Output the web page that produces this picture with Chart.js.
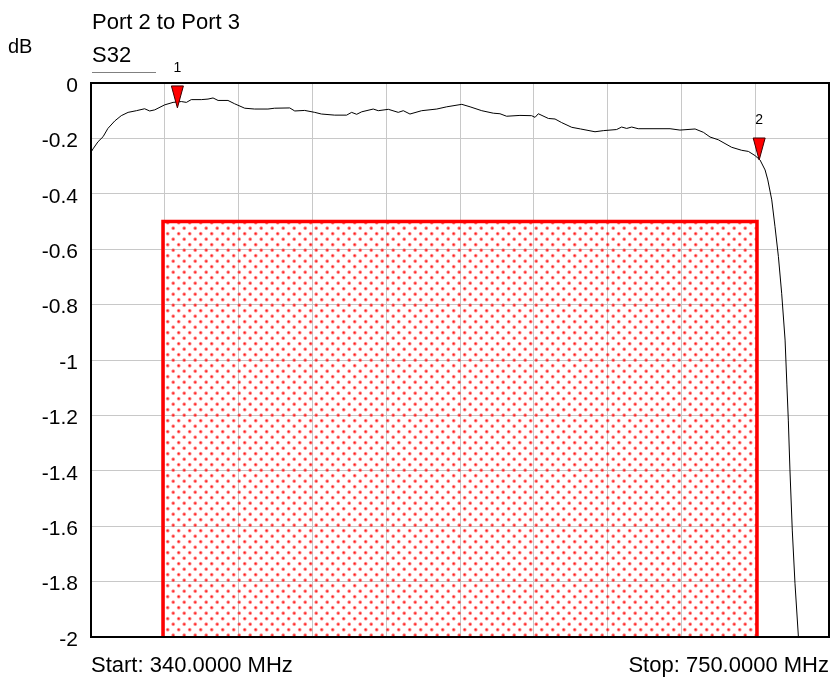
<!DOCTYPE html>
<html>
<head>
<meta charset="utf-8">
<script src="https://cdn.jsdelivr.net/npm/chart.js@4/dist/chart.umd.min.js"></script>
<style>
  html, body { margin: 0; padding: 0; background: #fff; }
  canvas { display: block; }
</style>
</head>
<body>
<canvas id="chart" width="831" height="680"></canvas>
<script>
/* S32 trace, Port 2 to Port 3 */
const freqMHz = [
  340.0, 341.1, 343.9, 346.7, 349.4, 353.2, 356.8, 360.6, 365.2, 369.8,
  372.6, 375.4, 380.9, 385.6, 390.2, 393.0, 395.7, 401.3, 405.0, 407.8,
  410.6, 416.1, 419.8, 425.4, 430.9, 438.3, 442.0, 450.4, 453.2, 458.7,
  464.3, 468.0, 475.4, 482.0, 484.8, 487.6, 490.4, 496.8, 499.6, 505.2,
  510.7, 513.5, 517.2, 523.7, 532.1, 537.6, 546.0, 550.6, 557.1, 563.5,
  567.2, 570.9, 578.3, 584.8, 586.7, 588.5, 594.1, 597.8, 601.5, 607.1,
  612.0, 620.0, 624.6, 632.0, 634.8, 637.6, 640.4, 644.0, 661.7, 667.2,
  675.6, 680.2, 683.9, 688.5, 695.9, 701.5, 705.2, 708.9, 711.7, 714.5,
  716.0, 718.2, 720.0, 721.9, 723.7, 725.6, 726.6, 727.4, 728.3, 729.6,
  731.1, 733.0, 734.0
];
const s32dB = [
  -0.250, -0.238, -0.212, -0.194, -0.164, -0.137, -0.118, -0.106, -0.100, -0.093,
  -0.101, -0.097, -0.079, -0.070, -0.067, -0.070, -0.060, -0.060, -0.058, -0.054,
  -0.063, -0.063, -0.075, -0.091, -0.094, -0.094, -0.091, -0.090, -0.101, -0.099,
  -0.106, -0.112, -0.116, -0.116, -0.106, -0.113, -0.104, -0.094, -0.100, -0.095,
  -0.106, -0.100, -0.112, -0.100, -0.094, -0.086, -0.077, -0.086, -0.100, -0.109,
  -0.111, -0.120, -0.117, -0.118, -0.124, -0.111, -0.128, -0.130, -0.143, -0.160,
  -0.166, -0.176, -0.172, -0.168, -0.159, -0.164, -0.159, -0.165, -0.165, -0.170,
  -0.166, -0.178, -0.195, -0.205, -0.232, -0.243, -0.247, -0.262, -0.278, -0.314,
  -0.350, -0.422, -0.519, -0.627, -0.759, -0.928, -1.090, -1.217, -1.397, -1.614,
  -1.806, -1.999, -2.100
];

/* limit mask (hatched box) */
const maskMHz = [380, 380, 710, 710];
const maskDb  = [-2, -0.5, -0.5, -2];

/* markers */
const markerNames = ['1', '2'];
const markerMHz   = [388, 711.2];
const markerDb    = [-0.09, -0.278];

/* axes */
const xTicksMHz = [340, 381, 422, 463, 504, 545, 586, 627, 668, 709, 750];
const yTicksDb  = [0, -0.2, -0.4, -0.6, -0.8, -1, -1.2, -1.4, -1.6, -1.8, -2];

const titleText = 'Port 2 to Port 3';
const traceName = 'S32';
const yUnit = 'dB';
const startText = 'Start: 340.0000 MHz';
const stopText = 'Stop: 750.0000 MHz';

const FONT = '"Liberation Sans", Arial, sans-serif';

function dotPattern() {
  const c = document.createElement('canvas');
  c.width = 11; c.height = 11;
  const g = c.getContext('2d');
  [[2.7, 2.7], [8.2, 8.2]].forEach(([cx, cy]) => {
    const grd = g.createRadialGradient(cx, cy, 0, cx, cy, 2.4);
    grd.addColorStop(0, 'rgba(255,0,0,1)');
    grd.addColorStop(0.5, 'rgba(255,40,40,0.65)');
    grd.addColorStop(1, 'rgba(255,120,120,0)');
    g.fillStyle = grd;
    g.fillRect(cx - 3, cy - 3, 6, 6);
  });
  return g.createPattern(c, 'repeat');
}

const overlay = {
  id: 'overlay',
  afterDatasetsDraw(chart) {
    const {ctx, chartArea: a, scales: {x, y}} = chart;
    ctx.save();
    markerMHz.forEach((f, i) => {
      const px = x.getPixelForValue(f), py = y.getPixelForValue(markerDb[i]);
      ctx.beginPath();
      ctx.moveTo(px, py);
      ctx.lineTo(px - 6, py - 22);
      ctx.lineTo(px + 6, py - 22);
      ctx.closePath();
      ctx.fillStyle = '#ff0000';
      ctx.fill();
      ctx.strokeStyle = '#3a0000';
      ctx.lineWidth = 1;
      ctx.stroke();
      ctx.fillStyle = '#000';
      ctx.font = '14px ' + FONT;
      ctx.textAlign = 'center';
      ctx.textBaseline = 'alphabetic';
      ctx.fillText(markerNames[i], px, py - 36);
    });
    // plot frame
    ctx.strokeStyle = '#000';
    ctx.lineWidth = 2;
    ctx.strokeRect(a.left, a.top, a.right - a.left, a.bottom - a.top);
    ctx.restore();
  },
  afterDraw(chart) {
    const {ctx, chartArea: a} = chart;
    ctx.save();
    ctx.fillStyle = '#000';
    ctx.textBaseline = 'alphabetic';
    ctx.textAlign = 'left';
    ctx.font = '22px ' + FONT;
    ctx.fillText(titleText, 92, 29);
    ctx.fillText(traceName, 92, 62);
    ctx.font = '20px ' + FONT;
    ctx.fillText(yUnit, 8, 53);
    ctx.strokeStyle = '#808080';
    ctx.lineWidth = 1;
    ctx.beginPath();
    ctx.moveTo(92, 72.5);
    ctx.lineTo(156, 72.5);
    ctx.stroke();
    ctx.font = '22px ' + FONT;
    ctx.fillText(startText, a.left, 672);
    ctx.textAlign = 'right';
    ctx.fillText(stopText, a.right, 672);
    ctx.restore();
  }
};

new Chart(document.getElementById('chart'), {
  type: 'line',
  data: {
    datasets: [
      {
        label: traceName,
        data: freqMHz.map((f, i) => ({x: f, y: s32dB[i]})),
        borderColor: '#000',
        borderWidth: 1,
        pointRadius: 0,
        tension: 0,
        fill: false,
      },
      {
        label: 'mask',
        data: maskMHz.map((f, i) => ({x: f, y: maskDb[i]})),
        borderColor: '#ff0000',
        borderWidth: 3.5,
        backgroundColor: dotPattern(),
        pointRadius: 0,
        tension: 0,
        fill: 'start',
      },
    ],
  },
  options: {
    responsive: false,
    animation: false,
    events: [],
    layout: {padding: {top: 83, right: 2, left: 0, bottom: 0}},
    plugins: {legend: {display: false}, tooltip: {enabled: false}},
    scales: {
      x: {
        type: 'linear',
        min: 340, max: 750,
        afterBuildTicks: s => { s.ticks = xTicksMHz.map(v => ({value: v})); },
        afterFit: s => { s.height = 43; },
        ticks: {display: false},
        grid: {color: '#c8c8c8', lineWidth: 1, drawTicks: false},
        border: {display: false},
      },
      y: {
        type: 'linear',
        min: -2, max: 0,
        afterBuildTicks: s => { s.ticks = yTicksDb.map(v => ({value: v})); },
        afterFit: s => { s.width = 91; },
        ticks: {
          color: '#000',
          padding: 13,
          labelOffset: 3,
          font: {family: FONT, size: 21},
          callback: v => String(+Number(v).toFixed(1)),
        },
        grid: {color: '#c8c8c8', lineWidth: 1, drawTicks: false},
        border: {display: false},
      },
    },
  },
  plugins: [overlay],
});
</script>
</body>
</html>
